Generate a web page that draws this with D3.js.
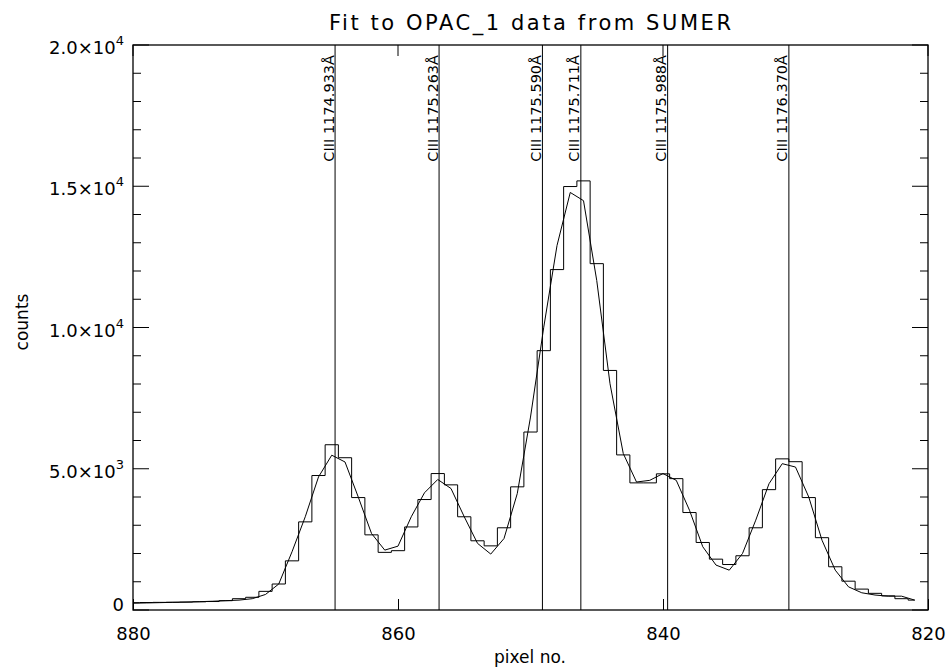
<!DOCTYPE html>
<html>
<head>
<meta charset="utf-8">
<script src="https://cdn.jsdelivr.net/npm/d3@7"></script>
<style>
  body { margin: 0; background: #fff; }
  text { font-family: "DejaVu Sans", sans-serif; fill: #000; }
</style>
</head>
<body>
<div id="chart-area"></div>
<script>
// pixel numbers (one bin per pixel) and the measured counts
var pixels = d3.range(880, 820, -1);
var counts = [260, 265, 270, 275, 280, 290, 300, 330, 400, 450,
              660, 920, 1740, 3120, 4760, 5850, 5390, 3980, 2660, 2040,
              2100, 2940, 3910, 4830, 4430, 3300, 2450, 2270, 2910, 4360,
              6300, 9180, 12050, 14990, 15190, 12260, 8480, 5490, 4500, 4500,
              4820, 4650, 3450, 2390, 1800, 1610, 1920, 2910, 4260, 5350,
              5250, 3980, 2560, 1530, 1020, 740, 590, 500, 400, 350];
// fitted profile at the same pixels
var fit = [240, 250, 260, 270, 280, 295, 310, 330, 350, 400,
           550, 920, 2060, 3300, 4710, 5480, 5240, 4000, 2710, 2120,
           2260, 3300, 4150, 4620, 4300, 3300, 2360, 1980, 2530, 4120,
           6830, 10010, 12900, 14780, 14490, 11660, 8010, 5540, 4530, 4590,
           4830, 4590, 3530, 2240, 1590, 1410, 2000, 3180, 4470, 5180,
           5060, 4000, 2470, 1410, 820, 610, 530, 490, 490, 350];

// line positions and identifications
var linePix = [864.75, 856.9, 849.1, 846.2, 839.65, 830.5];
var lineNames = ["CIII 1174.933Å", "CIII 1175.263Å", "CIII 1175.590Å",
                 "CIII 1175.711Å", "CIII 1175.988Å", "CIII 1176.370Å"];

// axis ticks
var xTicks = [880, 860, 840, 820];
var yTicks = [0, 5000, 10000, 15000, 20000];
var yMant = ["0", "5.0×10", "1.0×10", "1.5×10", "2.0×10"];
var yExp = ["", "3", "4", "4", "4"];
var yMinor = d3.range(0, 20001, 1000);

var margin = { left: 133, right: 23, top: 45, bottom: 61 };
var width = 951 - margin.left - margin.right,
    height = 671 - margin.top - margin.bottom;

var svg = d3.select("#chart-area")
    .append("svg")
        .attr("width", 951)
        .attr("height", 671);

var g = svg.append("g")
    .attr("transform", "translate(" + margin.left + ", " + margin.top + ")");

// X Scale (pixel numbers decrease to the right)
var x = d3.scaleLinear()
    .domain([880, 820])
    .range([0, width]);

// Y Scale
var y = d3.scaleLinear()
    .domain([0, 20000])
    .range([height, 0]);

var data = pixels.map(function(p, i) { return { p: p, c: counts[i], f: fit[i] }; });

// histogram of the data
g.append("path")
    .datum(data)
    .attr("fill", "none")
    .attr("stroke", "#000")
    .attr("stroke-width", 1)
    .attr("d", d3.line()
        .curve(d3.curveStep)
        .x(function(d) { return x(d.p); })
        .y(function(d) { return y(d.c); }));

// fit
g.append("path")
    .datum(data)
    .attr("fill", "none")
    .attr("stroke", "#000")
    .attr("stroke-width", 1)
    .attr("d", d3.line()
        .x(function(d) { return x(d.p); })
        .y(function(d) { return y(d.f); }));

// line markers
g.selectAll(".marker")
    .data(linePix)
    .enter().append("line")
        .attr("class", "marker")
        .attr("x1", function(d) { return x(d); })
        .attr("x2", function(d) { return x(d); })
        .attr("y1", 0)
        .attr("y2", height)
        .attr("stroke", "#000")
        .attr("stroke-width", 1);

g.selectAll(".mlabel")
    .data(linePix)
    .enter().append("text")
        .attr("class", "mlabel")
        .attr("transform", function(d) { return "translate(" + (x(d) - 1.5) + ",10) rotate(-90)"; })
        .attr("text-anchor", "end")
        .attr("font-size", "14.5px")
        .text(function(d, i) { return lineNames[i]; });

// frame
g.append("rect")
    .attr("width", width)
    .attr("height", height)
    .attr("fill", "none")
    .attr("stroke", "#000")
    .attr("stroke-width", 1.3);

// X Axis (bottom and top ticks)
var xAxisCall = d3.axisBottom(x)
    .tickValues(xTicks)
    .tickSizeInner(-11)
    .tickSizeOuter(0)
    .tickPadding(17)
    .tickFormat(d3.format("d"));
var xAxisGroup = g.append("g")
    .attr("class", "x axis")
    .attr("transform", "translate(0," + height + ")")
    .call(xAxisCall);
xAxisGroup.select(".domain").remove();
xAxisGroup.selectAll("text").attr("font-size", "18px").attr("dy", "0.71em");

g.selectAll(".xtop")
    .data(xTicks)
    .enter().append("line")
        .attr("x1", function(d) { return x(d); })
        .attr("x2", function(d) { return x(d); })
        .attr("y1", 0)
        .attr("y2", 11)
        .attr("stroke", "#000");

// Y ticks, left and right
g.selectAll(".ytick")
    .data(yMinor)
    .enter().append("line")
        .attr("x1", 0)
        .attr("x2", function(d) { return d % 5000 == 0 ? 16 : 8; })
        .attr("y1", function(d) { return y(d); })
        .attr("y2", function(d) { return y(d); })
        .attr("stroke", "#000");
g.selectAll(".ytickr")
    .data(yMinor)
    .enter().append("line")
        .attr("x1", width)
        .attr("x2", function(d) { return width - (d % 5000 == 0 ? 16 : 8); })
        .attr("y1", function(d) { return y(d); })
        .attr("y2", function(d) { return y(d); })
        .attr("stroke", "#000");

var yLab = g.selectAll(".ylab")
    .data(yTicks)
    .enter().append("text")
        .attr("class", "ylab")
        .attr("x", -9)
        .attr("y", function(d, i) { return y(d) + (yExp[i] ? 9 : 1); })
        .attr("text-anchor", "end")
        .attr("font-size", "18px");
yLab.append("tspan").text(function(d, i) { return yMant[i]; });
yLab.append("tspan")
    .attr("dy", -9)
    .attr("font-size", "13px")
    .text(function(d, i) { return yExp[i]; });

// Title
svg.append("text")
    .attr("x", 530)
    .attr("y", 30)
    .attr("text-anchor", "middle")
    .attr("font-size", "21px")
    .attr("textLength", 402)
    .attr("lengthAdjust", "spacing")
    .text("Fit to OPAC_1 data from SUMER");

// X Label
svg.append("text")
    .attr("x", 530)
    .attr("y", 663)
    .attr("text-anchor", "middle")
    .attr("font-size", "17px")
    .text("pixel no.");

// Y Label
svg.append("text")
    .attr("transform", "translate(28,322) rotate(-90)")
    .attr("text-anchor", "middle")
    .attr("font-size", "17px")
    .text("counts");
</script>
</body>
</html>
